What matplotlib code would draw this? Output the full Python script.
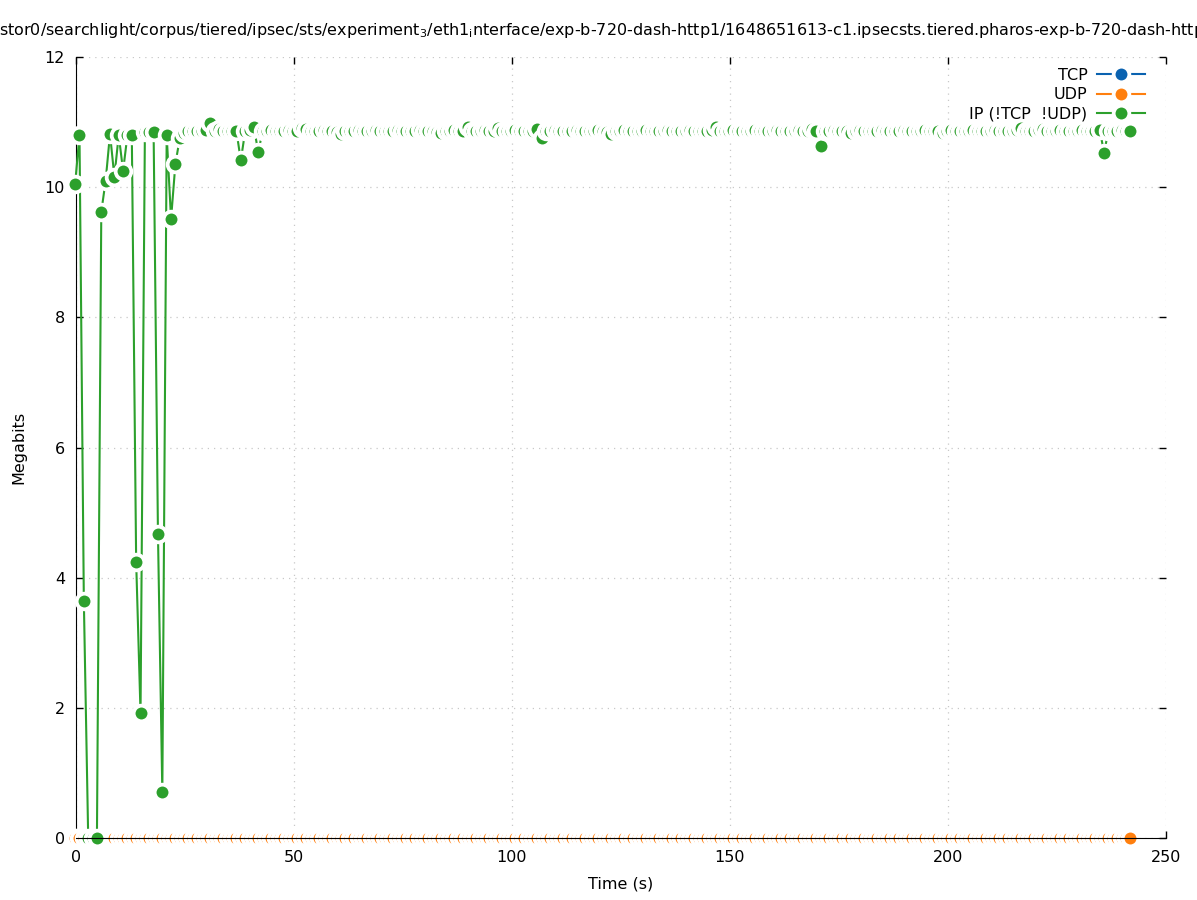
import numpy as np
import matplotlib
matplotlib.use("Agg")
import matplotlib.pyplot as plt

# 每秒一个采样点（第一个点在 -0.2 s 左右）
t_start = -0.2
ip_mbits = [
    10.05, 10.80, 3.64, 0.00, 0.00, 0.00, 9.62, 10.10, 10.82, 10.16,
    10.80, 10.25, 10.80, 10.80, 4.24, 1.92, 10.85, 10.84, 10.85, 4.67,
    0.70, 10.80, 9.51, 10.36, 10.75, 10.83, 10.86, 10.87, 10.86, 10.87,
    10.88, 10.99, 10.86, 10.90, 10.87, 10.86, 10.87, 10.86, 10.41, 10.86,
    10.88, 10.92, 10.54, 10.86, 10.87, 10.88, 10.86, 10.87, 10.86, 10.88,
    10.87, 10.86, 10.91, 10.90, 10.87, 10.86, 10.87, 10.88, 10.86, 10.87,
    10.85, 10.81, 10.86, 10.87, 10.86, 10.88, 10.87, 10.86, 10.87, 10.88,
    10.86, 10.87, 10.86, 10.87, 10.88, 10.86, 10.87, 10.86, 10.87, 10.88,
    10.87, 10.86, 10.87, 10.85, 10.83, 10.86, 10.87, 10.88, 10.86, 10.87,
    10.92, 10.87, 10.86, 10.87, 10.88, 10.86, 10.87, 10.91, 10.87, 10.86,
    10.87, 10.88, 10.86, 10.87, 10.86, 10.87, 10.90, 10.75, 10.86, 10.87,
    10.88, 10.86, 10.87, 10.86, 10.87, 10.88, 10.86, 10.87, 10.86, 10.87,
    10.88, 10.86, 10.85, 10.82, 10.86, 10.87, 10.88, 10.86, 10.87, 10.86,
    10.87, 10.88, 10.86, 10.87, 10.86, 10.87, 10.88, 10.86, 10.87, 10.86,
    10.87, 10.88, 10.86, 10.87, 10.86, 10.87, 10.88, 10.92, 10.87, 10.86,
    10.87, 10.88, 10.86, 10.87, 10.86, 10.87, 10.88, 10.86, 10.87, 10.86,
    10.87, 10.88, 10.86, 10.87, 10.86, 10.87, 10.88, 10.86, 10.87, 10.89,
    10.87, 10.63, 10.86, 10.87, 10.88, 10.86, 10.87, 10.86, 10.83, 10.87,
    10.88, 10.86, 10.87, 10.86, 10.87, 10.88, 10.86, 10.87, 10.86, 10.87,
    10.88, 10.86, 10.87, 10.86, 10.87, 10.88, 10.86, 10.87, 10.86, 10.83,
    10.87, 10.88, 10.86, 10.87, 10.86, 10.87, 10.88, 10.86, 10.87, 10.86,
    10.87, 10.88, 10.86, 10.87, 10.86, 10.87, 10.88, 10.91, 10.87, 10.86,
    10.87, 10.88, 10.90, 10.87, 10.86, 10.87, 10.88, 10.86, 10.87, 10.86,
    10.87, 10.88, 10.86, 10.87, 10.86, 10.88, 10.53, 10.87, 10.86, 10.87,
    10.88, 10.87, 10.86,
]
time_s = t_start + np.arange(len(ip_mbits))
tcp_mbits = [0.0] * len(ip_mbits)
udp_mbits = [0.0] * len(ip_mbits)

series = [
    ("TCP", tcp_mbits, "#0a62b0"),
    ("UDP", udp_mbits, "#ff7f0e"),
    ("IP (!TCP  !UDP)", ip_mbits, "#2ca02c"),
]

title = ("stor0/searchlight/corpus/tiered/ipsec/sts/experiment$_3$/eth1$_\\mathrm{i}$nterface/"
         "exp-b-720-dash-http1/1648651613-c1.ipsecsts.tiered.pharos-exp-b-720-dash-http1")

plt.rcParams['font.family'] = ['DejaVu Sans']
plt.rcParams['font.size'] = 11.5

fig = plt.figure(figsize=(11.97, 9.0), dpi=100)
ax = fig.add_axes([76 / 1197, 62 / 900, 1090 / 1197, 781 / 900])

for name, vals, col in series:
    ax.plot(time_s, vals, color=col, lw=1.5, label=name,
            marker='o', ms=11.3, mfc=col, mec='white', mew=2.7,
            clip_on=False, zorder=3)

ax.set_xlim(0, 250)
ax.set_ylim(0, 12)
ax.set_xticks(np.arange(0, 251, 50))
ax.set_yticks(np.arange(0, 13, 2))
ax.grid(True, color='#c8c8c8', lw=0.9, ls=(0, (1, 4)))
ax.spines['top'].set_visible(False)
ax.spines['right'].set_visible(False)
ax.spines['bottom'].set_zorder(4)
ax.tick_params(direction='in', length=5, width=1, top=True, right=True)
ax.tick_params(axis='y', pad=8)
ax.tick_params(axis='x', pad=9)
ax.set_xlabel("Time (s)", labelpad=8)
ax.set_ylabel("Megabits", labelpad=13)

# 标题比画布还宽，两端被裁掉（与原图一致）
fig.text(-0.001, 1 - 30 / 900, title, ha='left', va='center', fontsize=11.5)

ax.legend(loc='upper right', bbox_to_anchor=(1145 / 1197, 1 - 68 / 900),
          bbox_transform=fig.transFigure, frameon=False, markerfirst=False,
          borderpad=0, borderaxespad=0, handlelength=3.0, handletextpad=0.6,
          labelspacing=0.27)

fig.savefig("out.png", dpi=100)
